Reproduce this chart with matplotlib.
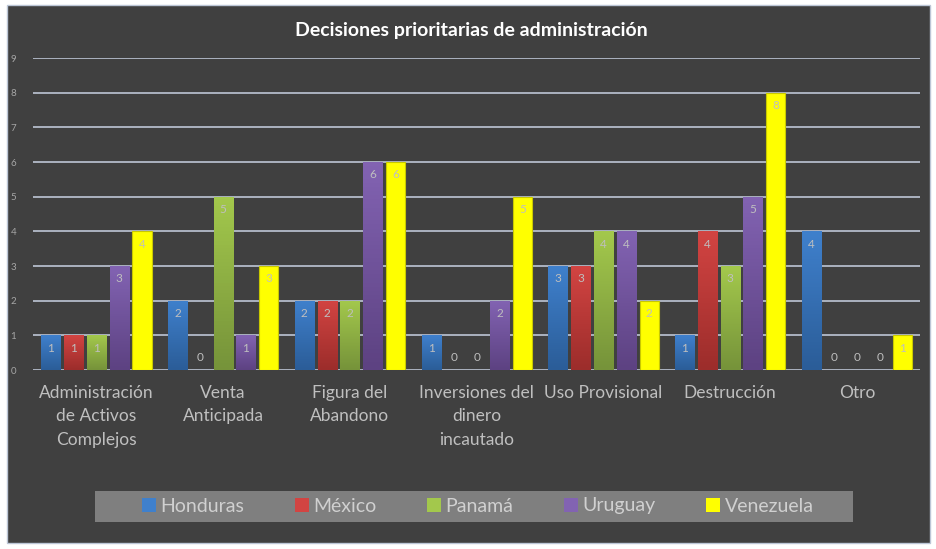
import numpy as np
import matplotlib.pyplot as plt
from matplotlib.colors import LinearSegmentedColormap
from matplotlib.patches import Rectangle, Patch

categorias = ["Administración\nde Activos\nComplejos", "Venta\nAnticipada",
              "Figura del\nAbandono", "Inversiones del\ndinero\nincautado",
              "Uso Provisional", "Destrucción", "Otro"]
paises = ["Honduras", "México", "Panamá", "Uruguay", "Venezuela"]
honduras = [1, 2, 2, 1, 3, 1, 4]
mexico = [1, 0, 2, 0, 3, 4, 0]
panama = [1, 5, 2, 0, 4, 3, 0]
uruguay = [3, 1, 6, 2, 4, 5, 0]
venezuela = [4, 3, 6, 5, 2, 8, 1]
series = [honduras, mexico, panama, uruguay, venezuela]

# top / bottom colours of the gradient fill
grad = [("#3F80CC", "#2B5D98"), ("#D24442", "#9C2D2B"), ("#A3C84C", "#76933A"),
        ("#8263B2", "#5D4282"), ("#FFFF00", "#FFFF00")]

plt.rcParams['font.family'] = ['Lato', 'DejaVu Sans']
bg = "#404040"

fig = plt.figure(figsize=(9.37, 5.49), dpi=100)
fig.patch.set_facecolor("white")
fig.patches.append(Rectangle((0.008, 0.011), 0.985, 0.98, transform=fig.transFigure,
                             facecolor=bg, edgecolor="#BCC6D6", lw=1, zorder=-2))
# legend background band
fig.patches.append(Rectangle((95 / 937, 1 - 522 / 549), 758 / 937, 31 / 549,
                             transform=fig.transFigure, facecolor="#7F7F7F",
                             edgecolor="none", zorder=-1))

ax = fig.add_axes([0.0352, 0.326, 0.947, 0.568])
ax.set_facecolor(bg)
x = np.arange(len(categorias))
w = 0.15
step = 0.18
for i, (vals, (ctop, cbot)) in enumerate(zip(series, grad)):
    xs = x + (i - 2) * step
    ec = "#C8C800" if i == 4 else "none"
    bars = ax.bar(xs, vals, width=w, color="none", edgecolor=ec, lw=0.8, zorder=3)
    cmap = LinearSegmentedColormap.from_list("g%d" % i, [cbot, ctop])
    for b, v in zip(bars, vals):
        if v > 0:
            im = ax.imshow(np.linspace(0, 1, 50).reshape(-1, 1), cmap=cmap,
                           extent=[b.get_x(), b.get_x() + b.get_width(), 0, v],
                           origin="lower", aspect="auto", zorder=2)
            im.set_clip_path(b)
        ty = v - 0.37 if v > 0 else 0.37
        ax.text(b.get_x() + b.get_width() / 2, ty, str(v), ha="center", va="center",
                color="#BFBFBF", fontsize=8.5, zorder=4)

ax.set_xlim(-0.5, len(categorias) - 0.5)
ax.set_ylim(0, 9)
ax.set_yticks(range(10))
ax.yaxis.grid(True, color="#B4BCCA", lw=1.3)
ax.set_axisbelow(True)
for s in ax.spines.values():
    s.set_visible(False)
ax.tick_params(axis="y", length=0, colors="#A6A6A6", labelsize=7, pad=12)
ax.tick_params(axis="x", length=0, colors="#BFBFBF", labelsize=12.5, pad=11)
ax.set_xticks(x)
ax.set_xticklabels(categorias, linespacing=1.55)

fig.text(0.503, 0.945, "Decisiones prioritarias de administración", ha="center",
         va="center", color="white", fontsize=14, fontweight="bold")

handles = [Patch(facecolor=c[0], edgecolor="none") for c in grad]
leg = fig.legend(handles, paises, loc="center", ncol=5,
                 bbox_to_anchor=(0.51, 1 - 506 / 549), frameon=False,
                 fontsize=14, handlelength=0.7, handleheight=0.7, handletextpad=0.25,
                 columnspacing=2.6, labelcolor="#D0D0D0")

fig.savefig("out.png", dpi=100, facecolor=fig.get_facecolor())
